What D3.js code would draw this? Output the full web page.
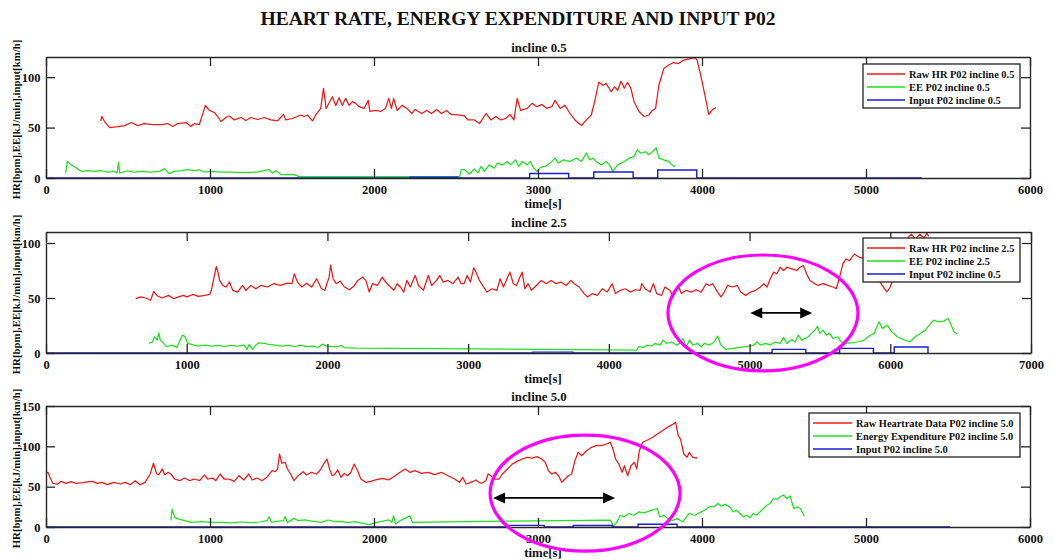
<!DOCTYPE html>
<html>
<head>
<meta charset="utf-8">
<script src="https://cdn.jsdelivr.net/npm/d3@7"></script>
<style>
  body { margin: 0; background: #fff; }
  text { font-family: "Liberation Serif", "Times New Roman", serif; font-weight: bold; fill: #111; }
</style>
</head>
<body>
<svg id="chart" width="1054" height="560"></svg>
<script>
// ---------- titles and labels ----------
const mainTitle = "HEART RATE, ENERGY EXPENDITURE AND INPUT P02";
const panelTitles = ["incline 0.5", "incline 2.5", "incline 5.0"];
const xLabel = "time[s]";
const yLabel = "HR[bpm],EE[kJ/min],input[km/h]";
const legend05 = ["Raw HR P02 incline 0.5", "EE P02 incline 0.5", "Input P02 incline 0.5"];
const legend25 = ["Raw HR P02 incline 2.5", "EE P02 incline 2.5", "Input P02 incline 0.5"];
const legend50 = ["Raw Heartrate Data P02 incline 5.0", "Energy Expenditure P02 incline 5.0", "Input P02 incline 5.0"];

// ---------- axis ticks ----------
const xTicks6000 = [0, 1000, 2000, 3000, 4000, 5000, 6000];
const xTicks7000 = [0, 1000, 2000, 3000, 4000, 5000, 6000, 7000];
const yTicks100 = [0, 50, 100];
const yTicks150 = [0, 50, 100, 150];

// ---------- incline 0.5: [time s, value] ----------
const hr05 = [[333,56.6],[341,61],[357,56],[388,50],[438,51],[479,52],[519,55],[560,52],[600,54],[651,53],[702,53],[742,54],[773,51],[803,54],[854,55],[884,51],[905,54],[935,53],[972,72],[996,67],[1026,65],[1047,61],[1067,56],[1097,60],[1118,61.5],[1148,57.6],[1189,60],[1219,57],[1249,60],[1290,58],[1331,60],[1371,57.6],[1412,56.6],[1448,63],[1462,57.6],[1503,59],[1554,62.5],[1574,61],[1594,62.5],[1625,56.6],[1645,62.5],[1675,69],[1692,89],[1708,69],[1746,80.6],[1767,72],[1787,79.6],[1807,72],[1827,79],[1848,72],[1868,75.7],[1888,74],[1909,70.7],[1939,69],[1965,77],[1975,66],[2010,67],[2040,66],[2070,69],[2090,79],[2106,69],[2120,79],[2141,67],[2171,72],[2201,69],[2231,64],[2251,68],[2291,64],[2321,67],[2351,64],[2382,68],[2412,64],[2442,67],[2472,63],[2512,62.5],[2552,61.5],[2572,57.6],[2612,57.6],[2643,54],[2683,64],[2713,57.6],[2743,61],[2773,57.6],[2803,59],[2829,63],[2853,57.6],[2873,79],[2894,67],[2934,69],[2964,74],[2994,70.7],[3024,73],[3054,69],[3084,70.7],[3104,77],[3135,69],[3165,72],[3195,64],[3225,57.6],[3265,52],[3295,57.6],[3325,62.5],[3345,75.7],[3371,95],[3396,92],[3416,93.7],[3446,85.5],[3466,90.5],[3486,87],[3506,96],[3526,89],[3546,95],[3566,89],[3586,75.7],[3616,66],[3647,61],[3677,62.5],[3697,67],[3717,69],[3737,92],[3767,108.5],[3797,112],[3827,114.5],[3857,113.5],[3888,117],[3918,118],[3948,119],[3968,118],[3988,105],[4018,82],[4041,63],[4066,68],[4086,70]];
const ee05 = [[120,5],[130,16.4],[154,13],[185,10],[215,6.6],[256,7.2],[296,6.6],[337,7.2],[377,5.9],[418,6.6],[434,5],[442,15.5],[450,5],[499,7.2],[540,5.9],[580,6.6],[641,5.9],[692,6.6],[722,9.2],[753,4.3],[783,6.6],[824,7.2],[864,8.2],[905,7.2],[935,8.2],[966,5.9],[1006,6.6],[1067,5.9],[1128,5.9],[1209,5.3],[1290,5.9],[1331,7.5],[1361,8.2],[1381,5],[1402,7.2],[1422,5],[1432,3.3],[1513,3.3],[1543,1.3],[2522,1.3],[2532,8.2],[2552,8.2],[2582,3.9],[2612,8.9],[2633,5],[2653,11.5],[2673,6.6],[2703,13],[2733,9.8],[2753,14.8],[2783,13],[2813,16.4],[2833,13],[2863,18],[2883,11.5],[2903,16.4],[2934,13],[2954,16.4],[2974,9.8],[2994,6.6],[3014,10.5],[3044,11.5],[3074,14.8],[3104,19.7],[3124,14.8],[3155,18],[3195,16.4],[3235,19.7],[3265,16.4],[3295,24.7],[3315,18],[3335,19.7],[3355,16.4],[3386,13],[3416,16.4],[3436,13],[3456,6.6],[3486,13],[3526,16.4],[3556,19.7],[3586,21.4],[3606,28],[3626,24.7],[3657,26],[3677,23],[3697,26],[3721,30],[3737,19.7],[3767,18],[3797,16.4],[3827,11.5],[3840,12.4]];
// input stages: [start s, end s, speed km/h]
const input05 = [[2220,2510,0.8],[2949,3187,4.5],[3340,3580,6],[3730,3968,8]];
const input05End = 5340;

// ---------- incline 2.5 ----------
const hr25 = [[638,49.4],[673,51],[708,50],[743,48],[766,56],[790,52],[825,50],[871,52.4],[907,49.4],[942,51],[977,52.4],[1000,51],[1047,53.3],[1082,51.5],[1128,52.4],[1164,53.3],[1175,57],[1199,72],[1210,78.6],[1222,73.5],[1234,66],[1257,61.4],[1280,60],[1304,64.5],[1327,57],[1362,55.4],[1397,61.4],[1421,57],[1456,61.4],[1491,58.4],[1526,61.4],[1572,60],[1619,63],[1666,61.4],[1713,63.5],[1748,63],[1764,72],[1787,64.5],[1818,60],[1853,63.5],[1888,60],[1923,67.5],[1958,58.4],[1981,57],[2012,69],[2023,80],[2040,67.5],[2063,63],[2091,65.4],[2121,60],[2157,57.5],[2192,61.4],[2215,66],[2250,69],[2273,66],[2297,55.4],[2320,63],[2355,61.4],[2390,69],[2414,64.5],[2437,61.4],[2472,57],[2495,63],[2519,60],[2542,55.4],[2565,66],[2589,60],[2624,70.5],[2647,61.4],[2682,57],[2717,70.5],[2741,61.4],[2776,66],[2799,70.5],[2822,64.5],[2857,66],[2893,63],[2928,69],[2951,63],[2970,63],[2993,70.5],[3016,64.5],[3040,77.4],[3056,73.5],[3080,66],[3110,60],[3133,55.4],[3169,58.4],[3204,57],[3227,67.5],[3251,60],[3281,69],[3297,73.5],[3321,63],[3344,61.4],[3368,69],[3384,73.5],[3403,58.4],[3426,63],[3450,57],[3485,61.4],[3520,66],[3555,63],[3590,66],[3625,63],[3660,64.5],[3696,61.4],[3731,66],[3754,63],[3789,60],[3824,54],[3848,51],[3883,54],[3918,52.4],[3953,58.4],[3988,55.4],[4023,63],[4047,54],[4082,57],[4117,58.4],[4152,55.4],[4187,57.5],[4222,57],[4234,63],[4258,58.4],[4293,55.4],[4316,63],[4340,54],[4375,52.4],[4398,60],[4433,57],[4457,51],[4492,61.4],[4515,54],[4550,57],[4585,55.4],[4621,57.5],[4656,55.4],[4691,63],[4714,61.4],[4738,63],[4773,55.4],[4796,51],[4820,55.4],[4843,61.4],[4878,60],[4913,61.4],[4937,55.4],[4972,52.4],[5007,55.4],[5042,57],[5077,60],[5101,63],[5124,60],[5147,67.5],[5171,73.5],[5194,72],[5218,78],[5241,75],[5265,78],[5300,76.5],[5335,75],[5358,78],[5382,79.5],[5405,72],[5429,66],[5464,63],[5487,61.4],[5522,63],[5557,61.4],[5593,60],[5616,58.4],[5640,69],[5663,81],[5686,85.5],[5710,84],[5745,90],[5780,87],[5810,86],[5840,88],[5870,80],[5900,70],[5940,62],[5975,55.5],[6000,60],[6040,75],[6080,95],[6120,104],[6150,108],[6180,103.5],[6210,108],[6240,104.5],[6260,109],[6272,106]];
const ee25 = [[731,8.7],[755,10],[773,14.8],[790,11.7],[801,18.4],[813,11.7],[836,8.7],[860,5.7],[895,7.2],[930,5.1],[953,11.7],[970,16.3],[988,14.8],[1007,8.7],[1035,7.8],[1082,6.3],[1128,7.2],[1175,6.3],[1222,7],[1269,6],[1315,7],[1362,6.3],[1409,7.2],[1428,3.3],[1444,7.8],[1467,3.3],[1491,7.2],[1514,9.3],[1549,8.7],[1584,7.8],[1631,7.2],[1678,6.3],[1724,7],[1771,5.7],[1806,7.2],[1853,5.7],[1900,6.3],[1935,5.1],[1965,8.1],[1993,6.3],[2040,5.7],[2075,5.7],[2098,7],[2121,4.8],[2200,4.4],[3000,3.8],[4000,2.8],[4199,2.7],[4211,5.7],[4246,5.1],[4269,7.2],[4304,6.3],[4328,8.7],[4363,7.2],[4386,11.7],[4410,8.7],[4445,10],[4480,7.2],[4503,8.7],[4527,13.3],[4550,5.7],[4574,11.7],[4597,7.2],[4632,8.7],[4656,5.7],[4679,8.7],[4714,7.2],[4749,10],[4773,15.4],[4796,7.2],[4831,3.3],[4995,6.3],[5030,7.2],[5054,10],[5077,7.2],[5112,8.7],[5147,7.2],[5183,10],[5218,8.7],[5241,14.2],[5265,8.7],[5300,12.3],[5323,10],[5347,16.3],[5370,11.7],[5394,13.3],[5417,14.8],[5440,17.8],[5464,20.8],[5483,24.4],[5499,17.8],[5522,20.8],[5546,16.3],[5569,17.8],[5593,13.3],[5628,14.8],[5651,10],[5675,8.7],[5721,9.3],[5768,10],[5815,11.7],[5850,15.4],[5885,17.8],[5920,28.3],[5944,22.3],[5979,25.3],[6010,19.3],[6050,14.8],[6105,11.7],[6141,10.2],[6177,14.8],[6213,17.8],[6249,20.8],[6277,25.3],[6308,29.8],[6344,28.3],[6380,29],[6411,31.3],[6428,26.8],[6452,19.3],[6476,17.2]];
const input25 = [[3460,3745,0.8],[5160,5400,3.3],[5640,5880,4.2],[6028,6268,5.4]];
const input25End = 6268;

// ---------- incline 5.0 ----------
const hr50 = [[0,66.5],[12,67.8],[26,60.7],[42,54],[72,53.3],[92,56.6],[123,54],[153,56.2],[183,54],[223,55],[263,56.2],[283,56.6],[313,54],[343,55.4],[373,52.5],[414,55.4],[454,53.3],[484,55.4],[514,52.5],[544,57.4],[574,52.5],[604,55.4],[635,65.7],[655,79],[675,65.7],[689,64.9],[709,72],[725,64.9],[745,67.8],[761,65.7],[785,59.5],[815,57.4],[845,60.7],[876,57.4],[906,59.5],[936,57.4],[966,64.5],[986,59.5],[1016,60.7],[1036,57.4],[1062,65.7],[1086,59.5],[1116,59.5],[1147,56.6],[1177,63.6],[1207,58.3],[1237,65.7],[1257,58.3],[1287,60.7],[1317,57.4],[1347,61.6],[1378,69.8],[1398,68.6],[1412,71.9],[1424,90.5],[1438,79],[1458,80.2],[1472,71.9],[1492,65.7],[1512,57.4],[1538,63.6],[1568,68.6],[1588,64.5],[1618,67.8],[1649,65.7],[1669,69.8],[1693,78],[1713,84.3],[1729,71.9],[1745,63.6],[1759,64.9],[1779,70.7],[1799,61.6],[1819,66.5],[1839,63.6],[1859,67.8],[1879,78],[1900,69.8],[1920,59.5],[1950,55.4],[1980,56.6],[2010,58.3],[2050,60.2],[2089,58.3],[2129,63.6],[2159,67.8],[2189,71.9],[2219,67.8],[2250,69.8],[2290,66.5],[2330,67.8],[2370,64.9],[2410,67.8],[2451,63.6],[2491,59.5],[2521,55.4],[2541,61.6],[2561,53.3],[2592,55.4],[2622,58.3],[2652,54],[2682,57.4],[2696,65.7],[2712,63.6],[2732,59.5],[2763,59.5],[2783,65.7],[2813,71.9],[2843,78],[2873,81.4],[2903,84.3],[2934,86.4],[2964,85.5],[2994,87.2],[3024,84.3],[3044,80.2],[3064,69.8],[3085,65.7],[3105,67.8],[3125,63.6],[3145,55.4],[3165,59.5],[3185,63.6],[3205,65.7],[3225,82.2],[3245,92.6],[3266,88.4],[3296,94.6],[3326,98.8],[3356,100.8],[3386,100.8],[3416,102.9],[3441,105],[3457,96.7],[3473,84.3],[3493,78],[3513,67.8],[3527,76],[3547,63.6],[3567,76],[3588,80.2],[3602,71.9],[3618,94.6],[3638,105],[3668,107.9],[3698,111],[3728,115.3],[3759,119.4],[3789,123.6],[3819,126.9],[3839,129.8],[3855,113.2],[3869,109],[3889,90.5],[3909,86.4],[3923,92.6],[3944,86.4],[3970,85.5]];
const ee50 = [[761,8],[769,22.3],[785,12],[805,10],[845,7.9],[886,5.8],[946,6.6],[1006,5.8],[1066,5.8],[1127,5],[1187,6.2],[1247,5.4],[1307,6.2],[1347,7.9],[1361,12.8],[1375,5.8],[1408,7],[1448,7.9],[1458,13.2],[1472,5.8],[1492,7.9],[1512,10.7],[1538,7.9],[1578,8.7],[1629,7],[1679,5.8],[1719,8.7],[1759,6.6],[1799,7],[1839,5.4],[1879,6.6],[1920,5],[1970,2.9],[2010,5.4],[2048,7],[2089,8.7],[2109,5.8],[2119,14],[2133,3.7],[2159,7.9],[2189,10.7],[2219,14],[2234,5.8],[2800,7.3],[3441,8.5],[3461,0.8],[3482,6.3],[3502,14.6],[3523,12.5],[3554,16.7],[3585,14.6],[3615,18.8],[3646,17.5],[3677,19.6],[3708,21.7],[3728,22.9],[3742,12.5],[3769,14.6],[3790,10.4],[3820,8.3],[3851,10.4],[3882,6.3],[3902,11.7],[3923,16.7],[3954,14.6],[3985,17.5],[4015,20.8],[4046,25],[4077,25.8],[4097,29.2],[4118,25.8],[4138,28.3],[4169,25],[4190,18.8],[4210,20.8],[4231,16.7],[4251,12.5],[4272,14.6],[4292,11.7],[4313,16.7],[4333,14.6],[4364,20.8],[4395,27],[4415,29.2],[4436,35.4],[4456,34.2],[4477,37.5],[4497,39.6],[4518,35.4],[4538,38.3],[4559,22.9],[4579,25],[4600,22.9],[4624,13.3]];
const input50 = [[2805,3038,2],[3215,3453,1.8],[3610,3848,3.4]];
const input50End = 5513;

// ---------- highlighted regions (data units: centre time, centre value, half-width s, half-height) ----------
const highlight25 = { t: 5095, v: 36.4, rt: 675, rv: 52.7, arrow: [5005, 5445, 36.4] };
const highlight50 = { t: 3287, v: 42, rt: 579, rv: 71.9, arrow: [2726, 3470, 36] };

// ---------- layout ----------
const colors = { hr: "#ee1a1a", ee: "#22e022", input: "#1a1ae0", axis: "#262626", mark: "#ff00ff" };
const panels = [
  { top: 57,  bottom: 178, left: 46, right: 1030, xMax: 6000, yMax: 120, xTicks: xTicks6000, yTicks: yTicks100,
    title: panelTitles[0], hr: hr05, ee: ee05, input: input05, inputEnd: input05End, legend: legend05,
    leg: { x: 863, y: 64, w: 157, line0: 867, line1: 905, text: 909 }, highlight: null },
  { top: 232, bottom: 353, left: 46, right: 1031, xMax: 7000, yMax: 110, xTicks: xTicks7000, yTicks: yTicks100,
    title: panelTitles[1], hr: hr25, ee: ee25, input: input25, inputEnd: input25End, legend: legend25,
    leg: { x: 863, y: 238, w: 157, line0: 867, line1: 905, text: 909 }, highlight: highlight25 },
  { top: 406, bottom: 527, left: 46, right: 1030, xMax: 6000, yMax: 150, xTicks: xTicks6000, yTicks: yTicks150,
    title: panelTitles[2], hr: hr50, ee: ee50, input: input50, inputEnd: input50End, legend: legend50,
    leg: { x: 809, y: 413, w: 211, line0: 813, line1: 852, text: 856 }, highlight: highlight50 }
];

// Turn treadmill stages into a zero-based step trace.
function stepTrace(stages, end) {
  const pts = [[0, 0]];
  stages.forEach(([a, b, v]) => { pts.push([a, 0], [a, v], [b, v], [b, 0]); });
  if (end > pts[pts.length - 1][0]) pts.push([end, 0]);
  return pts;
}

const svg = d3.select("#chart");
svg.append("rect").attr("width", 1054).attr("height", 560).attr("fill", "#fff");

svg.append("text").attr("x", 518).attr("y", 25).attr("text-anchor", "middle")
  .style("font-size", "19.6px").text(mainTitle);

const defs = svg.append("defs");

panels.forEach((p, i) => {
  const x = d3.scaleLinear().domain([0, p.xMax]).range([p.left, p.right]);
  const y = d3.scaleLinear().domain([0, p.yMax]).range([p.bottom, p.top]);
  const g = svg.append("g");

  defs.append("clipPath").attr("id", "plot" + i).append("rect")
    .attr("x", p.left).attr("y", p.top).attr("width", p.right - p.left).attr("height", p.bottom - p.top);

  const line = d3.line().x(d => x(d[0])).y(d => y(d[1]));
  const plot = g.append("g").attr("clip-path", `url(#plot${i})`);
  plot.append("path").datum(p.hr).attr("d", line).attr("fill", "none")
    .attr("stroke", colors.hr).attr("stroke-width", 1.25).attr("stroke-linejoin", "round");
  plot.append("path").datum(p.ee).attr("d", line).attr("fill", "none")
    .attr("stroke", colors.ee).attr("stroke-width", 1.25).attr("stroke-linejoin", "round");
  plot.append("path").datum(stepTrace(p.input, p.inputEnd)).attr("d", line).attr("fill", "none")
    .attr("stroke", colors.input).attr("stroke-width", 1.4);

  // axes: ticks point inwards on all four sides
  const styleAxis = sel => {
    sel.select(".domain").attr("stroke", colors.axis).attr("stroke-width", 1.4);
    sel.selectAll(".tick line").attr("stroke", colors.axis).attr("stroke-width", 1.3);
    sel.selectAll(".tick text").style("font-size", "12.5px").attr("fill", "#111");
  };
  g.append("g").attr("transform", `translate(0,${p.bottom})`)
    .call(d3.axisBottom(x).tickValues(p.xTicks).tickFormat(d3.format("d")).tickSizeInner(-9).tickSizeOuter(0).tickPadding(7.5))
    .call(styleAxis);
  g.append("g").attr("transform", `translate(0,${p.top})`)
    .call(d3.axisTop(x).tickValues(p.xTicks).tickFormat("").tickSizeInner(-9).tickSizeOuter(0))
    .call(styleAxis);
  g.append("g").attr("transform", `translate(${p.left},0)`)
    .call(d3.axisLeft(y).tickValues(p.yTicks).tickFormat(d3.format("d")).tickSizeInner(-9).tickSizeOuter(0).tickPadding(5.5))
    .call(styleAxis);
  g.append("g").attr("transform", `translate(${p.right},0)`)
    .call(d3.axisRight(y).tickValues(p.yTicks).tickFormat("").tickSizeInner(-9).tickSizeOuter(0))
    .call(styleAxis);
  g.selectAll(".domain").attr("fill", "none");

  // panel title, axis labels
  g.append("text").attr("x", 539).attr("y", p.top - 5).attr("text-anchor", "middle")
    .style("font-size", "12.8px").text(p.title);
  g.append("text").attr("x", 543).attr("y", p.bottom + 30).attr("text-anchor", "middle")
    .style("font-size", "12.8px").text(xLabel);
  g.append("text").attr("transform", `translate(19.5,${(p.top + p.bottom) / 2 + 2}) rotate(-90)`)
    .attr("text-anchor", "middle").style("font-size", "10.8px").text(yLabel);

  // legend
  const L = p.leg;
  const lg = g.append("g");
  lg.append("rect").attr("x", L.x).attr("y", L.y).attr("width", L.w).attr("height", 44)
    .attr("fill", "#fff").attr("stroke", "#222").attr("stroke-width", 1.3);
  [colors.hr, colors.ee, colors.input].forEach((c, k) => {
    const yy = L.y + 10 + k * 13;
    lg.append("line").attr("x1", L.line0).attr("x2", L.line1).attr("y1", yy).attr("y2", yy)
      .attr("stroke", c).attr("stroke-width", 1.5);
    lg.append("text").attr("x", L.text).attr("y", yy + 3.6).style("font-size", "10.4px").text(p.legend[k]);
  });

  // highlighted region with a double-headed arrow
  if (p.highlight) {
    const h = p.highlight;
    g.append("ellipse").attr("cx", x(h.t)).attr("cy", y(h.v))
      .attr("rx", x(h.t + h.rt) - x(h.t)).attr("ry", y(h.v) - y(h.v + h.rv))
      .attr("fill", "none").attr("stroke", colors.mark).attr("stroke-width", 3.2);
    const [a0, a1, av] = h.arrow;
    const xa = x(a0), xb = x(a1), ya = y(av), head = 12, half = 5.5;
    g.append("line").attr("x1", xa + head - 1).attr("x2", xb - head + 1).attr("y1", ya).attr("y2", ya)
      .attr("stroke", "#000").attr("stroke-width", 1.8);
    g.append("path").attr("d", `M${xa},${ya} L${xa + head},${ya - half} L${xa + head},${ya + half} Z`).attr("fill", "#000");
    g.append("path").attr("d", `M${xb},${ya} L${xb - head},${ya - half} L${xb - head},${ya + half} Z`).attr("fill", "#000");
  }
});
</script>
</body>
</html>
